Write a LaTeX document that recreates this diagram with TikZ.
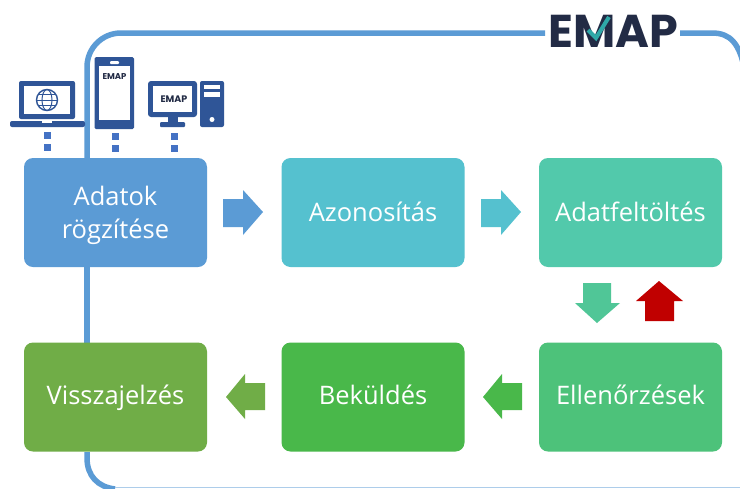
\documentclass[tikz,border=0pt]{standalone}
\usepackage{fontspec}
\setmainfont{Open Sans}
\newfontfamily\logofont{Poppins}
\definecolor{frameblue}{HTML}{5B9BD5}
\definecolor{devblue}{HTML}{2F5597}
\definecolor{dotblue}{HTML}{4472C4}
\definecolor{navy}{HTML}{222B45}
\definecolor{tealm}{HTML}{2FA8A8}
\definecolor{c1}{HTML}{5B9BD5}
\definecolor{c2}{HTML}{55C1CF}
\definecolor{c3}{HTML}{52C9AB}
\definecolor{c4}{HTML}{4DC27A}
\definecolor{c5}{HTML}{49B84A}
\definecolor{c6}{HTML}{70AD47}
\definecolor{redup}{HTML}{C00000}
\tikzset{
  stage/.style={rounded corners=9pt,minimum width=183pt,minimum height=109pt,text=white,
    inner sep=0pt,align=center,font=\fontsize{25.5}{33}\selectfont},
  toprow/.style={stage,text height=18pt,text depth=0pt},
  lowrow/.style={stage,text height=18pt,text depth=3pt},
  framepath/.style={draw=frameblue,line width=5.5pt},
  dev/.style={fill=devblue,draw=none},
  screen/.style={fill=white,draw=none},
  dot/.style={fill=dotblue,draw=none,minimum size=7pt,inner sep=0pt,rectangle},
  logotext/.style={font=\logofont\bfseries\fontsize{8.5}{8.5}\selectfont,text=navy,inner sep=0pt},
}
\begin{document}
\begin{tikzpicture}[x=1pt,y=-1pt]
\useasboundingbox (0,0) rectangle (740,488);
\fill[white] (0,0) rectangle (740,488);
% frame
\coordinate (fa) at (87,345);
\coordinate (fb) at (545,33);
\coordinate (fc) at (680,33);
\coordinate (fd) at (745,72);
\coordinate (fe) at (87,452);
\draw[framepath,rounded corners=34pt] (87,160) -- (87,33) -- (fb);
\draw[framepath] (fc) -- (712,33) .. controls (730,33) and (740,43) .. (fd);
\draw[framepath] (87,265) -- (fa);
\draw[framepath] (fe) -- (87,458) .. controls (87,476) and (98,487) .. (115,489);
\draw[frameblue!50,line width=1pt] (115,487.5) -- (740,487.5);
% logo
\node[inner sep=0pt,text=navy,font=\logofont\bfseries\fontsize{46}{46}\selectfont] (logo) at (613,31) {EMAP};
\draw[tealm,line width=4pt] (588,30) -- (596,38) -- (609,17);
% boxes
\node[stage,fill=c1] (n1) at (115.5,212.5) {\rule{0pt}{24.4pt}Adatok\\rögzítése};
\node[toprow,fill=c2] (n2) at (373,212.5) {Azonosítás};
\node[toprow,fill=c3] (n3) at (630.5,212.5) {Adatfeltöltés};
\node[lowrow,fill=c4] (n4) at (630.5,397) {Ellenőrzések};
\node[lowrow,fill=c5] (n5) at (373,397) {Beküldés};
\node[lowrow,fill=c6] (n6) at (115.5,397) {Visszajelzés};
% block arrows
\fill[c1] (223,199)--(243,199)--(243,190)--(263,212)--(243,235)--(243,227)--(223,227)--cycle;
\fill[c2] (481,199)--(501,199)--(501,190)--(521,212)--(501,235)--(501,227)--(481,227)--cycle;
\fill[c3!60!c4] (583,283)--(611,283)--(611,303)--(620,303)--(597,323)--(575,303)--(583,303)--cycle;
\fill[redup] (659,281)--(683,301)--(674,301)--(674,321)--(645,321)--(645,301)--(636,301)--cycle;
\fill[c5] (522,383)--(502,383)--(502,374)--(483,397)--(502,419)--(502,410)--(522,410)--cycle;
\fill[c6] (265,383)--(245,383)--(245,374)--(226,397)--(245,419)--(245,410)--(265,410)--cycle;
% laptop
\fill[dev,rounded corners=2pt] (19,81) rectangle (75,119);
\fill[screen] (24,86) rectangle (70,114);
\fill[dev,rounded corners=2pt] (10,121) rectangle (85,127);
\fill[screen] (42,121) rectangle (52,122.5);
\node[circle,draw=devblue,line width=1.4pt,minimum size=21pt,inner sep=0pt] (globe) at (47,100) {};
\draw[devblue,line width=1pt] (36.5,100)--(57.5,100) (38,94.5)--(56,94.5) (38,105.5)--(56,105.5);
\draw[devblue,line width=1pt] (47,100) ellipse[x radius=5,y radius=10.5];
% phone
\fill[dev,rounded corners=1.5pt] (94.5,57) rectangle (134,129);
\fill[screen] (99,66) rectangle (129.5,120);
\fill[screen,rounded corners=1pt] (110,61) rectangle (119,64);
\node[logotext] (logo2) at (114.5,76.5) {EMAP};
% desktop
\fill[dev,rounded corners=3pt] (148,81) rectangle (197,117);
\fill[screen] (153,86) rectangle (192,112);
\fill[dev] (168,117) rectangle (178,122);
\fill[dev,rounded corners=1pt] (160,122) rectangle (185,127);
\node[logotext,font=\logofont\bfseries\fontsize{9.5}{9.5}\selectfont] (logo3) at (174,99) {EMAP};
\fill[dev,rounded corners=2pt] (200,81) rectangle (224,127);
\fill[screen] (204,85) rectangle (220,89);
\fill[screen] (204,92) rectangle (220,97);
\fill[screen] (212,119.5) circle (2.5pt);
% dots
\node[dot] (d1) at (47.5,135) {};
\node[dot] (d2) at (47.5,147) {};
\node[dot] (d3) at (115,136) {};
\node[dot] (d4) at (115,148) {};
\node[dot] (d5) at (174,136) {};
\node[dot] (d6) at (174,148) {};
\end{tikzpicture}
\end{document}
